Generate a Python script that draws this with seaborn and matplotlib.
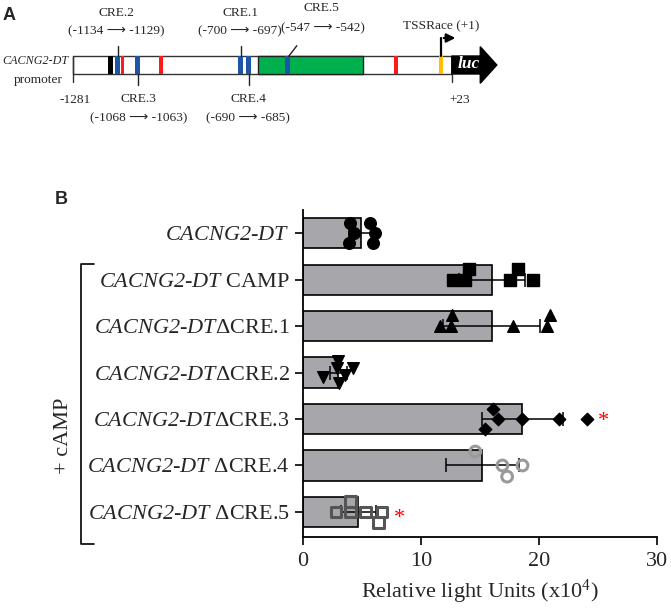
import numpy as np
import pandas as pd
import matplotlib
matplotlib.use("Agg")
import matplotlib.pyplot as plt
import seaborn as sns

# Panel B data (x10^4 RLU)
labels = [
    r"$CACNG2$-$DT$",
    r"$CACNG2$-$DT$ CAMP",
    r"$CACNG2$-$DT$ΔCRE.1",
    r"$CACNG2$-$DT$ΔCRE.2",
    r"$CACNG2$-$DT$ΔCRE.3",
    r"$CACNG2$-$DT$ ΔCRE.4",
    r"$CACNG2$-$DT$ ΔCRE.5",
]
means = [4.9, 16.0, 16.0, 3.0, 18.6, 15.2, 4.7]
sds = [1.0, 2.8, 4.1, 0.75, 3.4, 3.1, 1.5]

pts_x = [
    [4.0, 4.3, 3.9, 5.7, 6.1, 5.9],
    [12.7, 13.7, 14.1, 17.5, 18.2, 19.5],
    [11.6, 12.5, 12.6, 17.8, 20.7, 20.9],
    [1.7, 3.0, 2.85, 3.56, 3.08, 4.27],
    [16.1, 16.5, 15.4, 18.6, 21.7, 24.1],
    [14.6, 16.9, 17.3, 18.6],
    [4.0, 2.8, 4.0, 5.3, 6.7, 6.4],
]
pts_dy = [
    [-0.22, 0, 0.22, -0.22, 0, 0.22],
    [0, 0, -0.24, 0, -0.24, 0],
    [0, 0, -0.24, 0, 0, -0.24],
    [0.1, -0.25, -0.1, 0.06, 0.22, -0.09],
    [-0.22, 0, 0.22, 0, 0, 0],
    [-0.3, 0, 0.24, 0],
    [-0.22, 0, 0, 0, 0, 0.22],
]
star_rows = [4, 6]
star_x = [25.5, 8.2]

# Panel A data (bp), schematic positions
prom_start, prom_end = -1281, 23
cre_names = ["CRE.2", "CRE.3", "CRE.1", "CRE.4", "CRE.5"]
cre_ranges = ["(-1134 ⟶ -1129)", "(-1068 ⟶ -1063)", "(-700 ⟶ -697)",
              "(-690 ⟶ -685)", "(-547 ⟶ -542)"]
blue_start = [-1136, -1067, -713, -686, -551]
red_start = [-1115, -983, -175]
black_start = [-1158]
green_span = (-645, -283)
yellow_start = [-20]

sns.set_theme(style="ticks")
plt.rcParams["font.family"] = ["Liberation Serif", "DejaVu Sans"]
plt.rcParams["mathtext.fontset"] = "custom"
plt.rcParams["mathtext.rm"] = "Liberation Serif:italic"
plt.rcParams["mathtext.it"] = "Liberation Serif:italic"
plt.rcParams["mathtext.bf"] = "Liberation Serif:bold"

W, H = 671, 613
fig = plt.figure(figsize=(W / 100, H / 100), dpi=100)

# ---------- Panel A ----------
px_per_bp = 0.2907
x0 = prom_start - 72.7 / px_per_bp
ax_a = fig.add_axes([0, 1 - 180 / H, 1, 180 / H])
ax_a.set_xlim(x0, x0 + W / px_per_bp)
ax_a.set_ylim(180, 0)
ax_a.axis("off")
fs_a = 9.6

ytop, ybot = 56, 74
ax_a.add_patch(plt.Rectangle((prom_start, ytop), prom_end - prom_start, ybot - ytop,
                             facecolor="white", edgecolor="#333333", lw=1.0))
ax_a.plot([prom_start, prom_start], [ytop, 82], color="#333333", lw=1.0)
ax_a.plot([prom_end, prom_end], [ybot, 82], color="#333333", lw=1.0)

ax_a.add_patch(plt.Rectangle((green_span[0], ytop), green_span[1] - green_span[0], ybot - ytop,
                             facecolor="#00b04f", edgecolor="#222222", lw=1.0))
for s in black_start:
    ax_a.add_patch(plt.Rectangle((s, ytop), 15, ybot - ytop, color="black", lw=0))
for s in red_start:
    ax_a.add_patch(plt.Rectangle((s, ytop), 12, ybot - ytop, color="#ff1a1a", lw=0))
for s in blue_start:
    ax_a.add_patch(plt.Rectangle((s, ytop), 18, ybot - ytop, color="#1f55a6", lw=0))
for s in yellow_start:
    ax_a.add_patch(plt.Rectangle((s, ytop), 13, ybot - ytop, color="#ffbf00", lw=0))

# luc arrow
luc_x = [23, 121, 121, 178, 121, 121, 23]
luc_y = [ytop, ytop, 46.7, 65, 83.3, ybot, ybot]
ax_a.fill(luc_x, luc_y, color="black")
ax_a.text(80, 64, "luc", color="white", fontsize=12.5, fontweight="bold",
          fontstyle="italic", ha="center", va="center")

# TSS bent arrow
ax_a.plot([-13, -13], [ytop, 38], color="black", lw=1.6)
ax_a.annotate("", xy=(45, 38), xytext=(-14, 38),
              arrowprops=dict(arrowstyle="-|>", lw=1.6, color="black", mutation_scale=13))
ax_a.text(-12, 26, "TSSRace (+1)", fontsize=fs_a, ha="center", va="center")

ax_a.text(x0 + 2 / px_per_bp, 61, "CACNG2-DT", fontsize=8.7, fontstyle="italic",
          ha="left", va="center")
ax_a.text(-1314, 80, "promoter", fontsize=fs_a, ha="right", va="center")
ax_a.text(-1273, 100, "-1281", fontsize=fs_a, ha="center", va="center")
ax_a.text(49, 100, "+23", fontsize=fs_a, ha="center", va="center")

# CRE labels: CRE.2 / CRE.1 above the bar, CRE.3 / CRE.4 below
lead_x = [-1126, -1055, -703, -673]
lead_top = [True, False, True, False]
lab_x = [-1131, -1054, -705, -677]
for i in range(4):
    if lead_top[i]:
        ax_a.plot([lead_x[i]] * 2, [ytop, 45.7], color="#222222", lw=1.0)
        y1, y2 = 13.3, 31.7
    else:
        ax_a.plot([lead_x[i]] * 2, [ybot, 85], color="#222222", lw=1.0)
        y1, y2 = 99.3, 118.3
    ax_a.text(lab_x[i], y1, cre_names[i], fontsize=fs_a, ha="center", va="center")
    ax_a.text(lab_x[i], y2, cre_ranges[i], fontsize=fs_a, ha="center", va="center")
ax_a.plot([-539, -510], [56.7, 45.7], color="#222222", lw=1.0)
ax_a.text(-424, 8.3, cre_names[4], fontsize=fs_a, ha="center", va="center")
ax_a.text(-419, 28.3, cre_ranges[4], fontsize=fs_a, ha="center", va="center")

# ---------- Panel B ----------
ax_b = fig.add_axes([303 / W, (H - 537) / H, (657 - 303) / W, (537 - 210) / H])
df = pd.DataFrame({"label": labels, "mean": means})
sns.barplot(data=df, x="mean", y="label", color="#a7a7ab", saturation=1,
            edgecolor="black", linewidth=1.2, width=0.65, errorbar=None, ax=ax_b)
ypos = np.arange(len(labels))
ax_b.errorbar(means, ypos, xerr=sds, fmt="none", ecolor="black", elinewidth=1.1,
              capsize=5, capthick=1.1, zorder=3)

styles = [
    dict(marker="o", s=70, color="black"),
    dict(marker="s", s=70, color="black"),
    dict(marker="^", s=70, color="black"),
    dict(marker="v", s=70, color="black"),
    dict(marker="D", s=40, color="black"),
    dict(marker="o", s=60, facecolors="none", edgecolors="#9a9a9a", linewidths=2.2),
    dict(marker="s", s=60, facecolors="none", edgecolors="#555555", linewidths=2.2),
]
for i in range(len(labels)):
    ax_b.scatter(pts_x[i], ypos[i] + np.array(pts_dy[i]), zorder=4, **styles[i])
for r, sx in zip(star_rows, star_x):
    dy = 0.15 if r == 6 else 0.05
    ax_b.text(sx, r + dy, "*", color="red", fontsize=16, ha="center", va="center", zorder=5)

ax_b.set_xlim(0, 30)
ax_b.set_ylim(6.54, -0.5)
ax_b.set_xticks([0, 10, 20, 30])
ax_b.set_xlabel(r"Relative light Units (x10$^{\mathregular{4}}$)", fontsize=16, labelpad=5)
ax_b.set_ylabel("")
ax_b.tick_params(axis="both", labelsize=16, width=1.2, length=6, color="black")
ax_b.tick_params(axis="x", pad=5)
sns.despine(ax=ax_b)
for sp in ["left", "bottom"]:
    ax_b.spines[sp].set_linewidth(1.3)
    ax_b.spines[sp].set_color("black")

# overlay: bracket, +cAMP, panel letters
ax_o = fig.add_axes([0, 0, 1, 1], zorder=-1)
ax_o.set_xlim(0, W)
ax_o.set_ylim(H, 0)
ax_o.axis("off")
ax_o.plot([94, 81, 81, 94], [264, 264, 544, 544], color="black", lw=1.2)
ax_o.text(63, 436, "+ cAMP", rotation=90, fontsize=16, ha="center", va="center")
ax_o.text(3, 16, "A", fontsize=13, fontweight="bold", family="Liberation Sans",
          ha="left", va="center")
ax_o.text(55, 199, "B", fontsize=13, fontweight="bold", family="Liberation Sans",
          ha="left", va="center")

fig.savefig("out.png", dpi=100)
